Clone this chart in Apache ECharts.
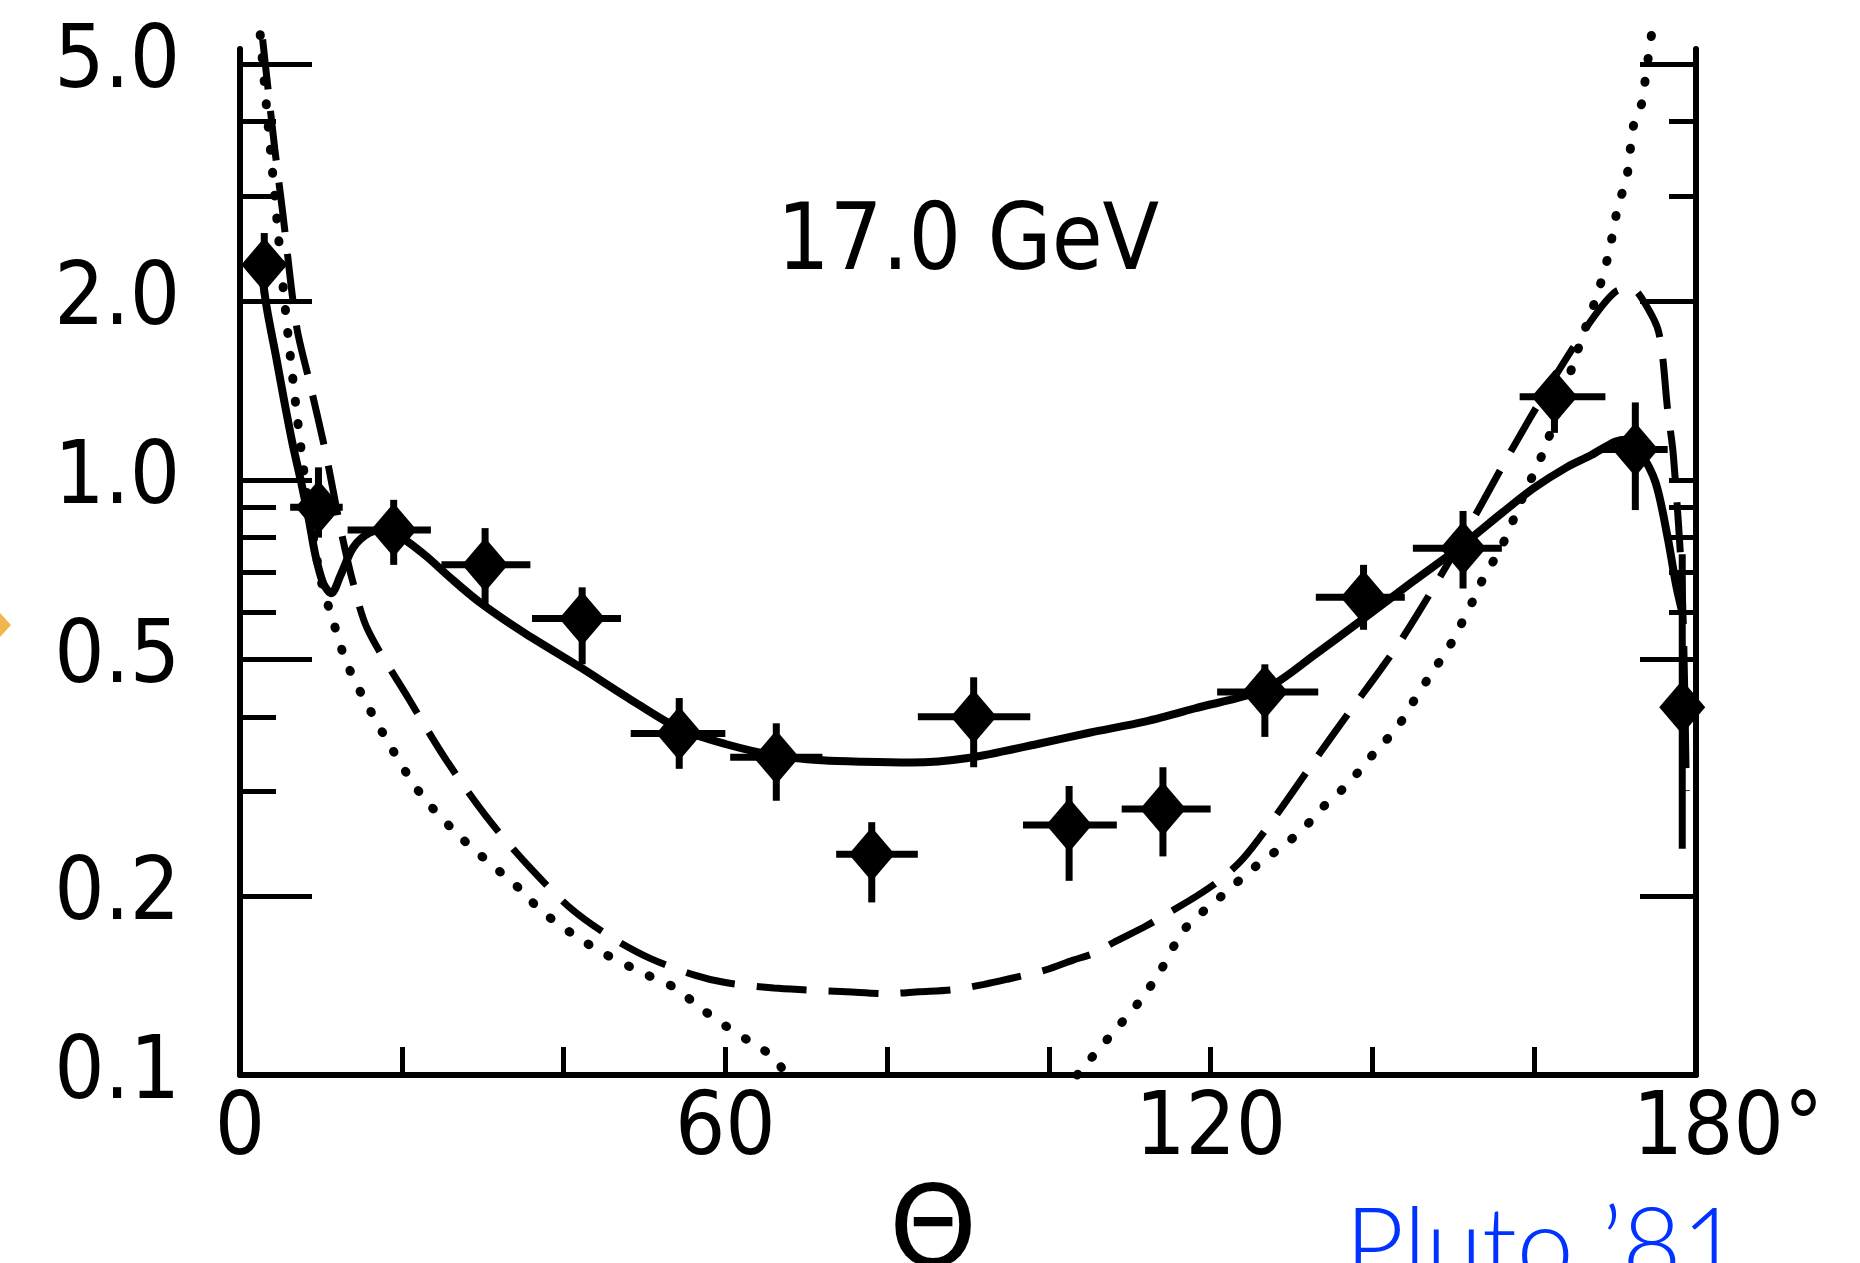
<!DOCTYPE html>
<html>
<head>
<meta charset="utf-8">
<script src="https://cdn.jsdelivr.net/npm/echarts@6/dist/echarts.min.js"></script>
<style>
html,body{margin:0;padding:0;background:#fff;}
#chart{width:1860px;height:1263px;}
</style>
</head>
<body>
<div id="chart"></div>
<script>
// ---- data ----
const xLabelValues = [0, 60, 120, 180];
const yLabelValues = [0.1, 0.2, 0.5, 1, 2, 5];
const leftMinorTicks = [0.3, 0.4, 0.6, 0.7, 0.8, 0.9, 3, 4];
const rightMajorTicks = [0.2, 0.5, 2, 5];
const rightMinorTicks = [0.6, 0.7, 0.8, 0.9, 1, 3, 4];

// measured points: angle, value, angle low/high, value low/high
const theta    = [3.0, 9.7, 19.0, 30.3, 42.3, 54.3, 66.3, 78.1, 90.7, 102.5, 114.1, 126.7, 138.9, 151.2, 162.5, 172.5, 178.3];
const dsig     = [2.3, 0.90, 0.824, 0.72, 0.585, 0.375, 0.342, 0.235, 0.40, 0.263, 0.28, 0.44, 0.635, 0.768, 1.38, 1.125, 0.415];
const thetaLo  = [1.0, 6.2, 13.3, 24.9, 36.1, 48.3, 60.6, 73.7, 83.8, 96.8, 109.0, 120.8, 133.0, 145.0, 158.2, 168.5, 176.0];
const thetaHi  = [5.5, 12.7, 23.6, 35.9, 47.1, 60.0, 72.0, 83.8, 97.7, 108.4, 120.0, 133.3, 144.0, 156.0, 168.8, 176.5, 180.0];
const dsigLo   = [2.05, 0.80, 0.72, 0.61, 0.49, 0.327, 0.289, 0.195, 0.329, 0.212, 0.233, 0.37, 0.56, 0.657, 1.20, 0.89, 0.24];
const dsigHi   = [2.6, 1.05, 0.926, 0.83, 0.66, 0.43, 0.39, 0.266, 0.466, 0.306, 0.329, 0.49, 0.72, 0.887, 1.49, 1.35, 0.75];

// theory curves [angle, value]
const solidCurve = [[2.5,2.35],[3.3,1.95],[4.5,1.6],[5.5,1.35],[6.5,1.15],[7.5,1.0],[8.5,0.86],[9.3,0.75],[10.3,0.67],[11.3,0.645],[12.4,0.69],[14,0.77],[16,0.815],[18,0.825],[20,0.8],[23,0.745],[26,0.685],[29.5,0.625],[35,0.555],[42,0.485],[48,0.43],[54.3,0.382],[60,0.36],[66.3,0.344],[72,0.338],[77,0.336],[83,0.335],[90,0.341],[98.6,0.36],[105,0.376],[112,0.393],[118,0.413],[126.7,0.445],[133,0.51],[139,0.586],[145,0.675],[151,0.775],[156,0.88],[160,0.97],[164,1.05],[167,1.1],[170,1.16],[171.5,1.17],[173,1.12],[175,0.99],[176.5,0.8],[177.5,0.67],[178.3,0.6]];
const dashedCurve = [[2.8,5.5],[3.5,4.5],[4.3,3.6],[5.3,2.8],[7.0,1.81],[8.6,1.46],[10.6,1.11],[12.5,0.82],[14,0.67],[15.8,0.56],[20.8,0.43],[25.7,0.335],[31,0.266],[36,0.222],[41,0.19],[46,0.17],[50.7,0.157],[56.3,0.147],[60,0.143],[66,0.14],[70,0.139],[75,0.138],[80,0.137],[84,0.138],[88,0.139],[92,0.142],[95,0.145],[99.5,0.15],[103,0.156],[105.5,0.16],[108,0.167],[112,0.178],[115,0.188],[118.3,0.2],[121,0.212],[124,0.231],[128,0.272],[133,0.34],[137,0.405],[141,0.48],[144,0.55],[150,0.75],[157,1.11],[162,1.45],[167,1.85],[170,2.07],[172,2.1],[173.5,2.0],[175.4,1.77],[176.5,1.31],[177.2,1.1],[178.3,0.65],[178.8,0.3]];
const dottedLeft = [[2.5,5.6],[3.3,4.2],[4.3,3.0],[5.5,2.0],[7,1.3],[8.5,0.9],[10,0.68],[11.5,0.58],[13,0.5],[14.9,0.44],[18.7,0.355],[22.4,0.296],[27.4,0.25],[32.4,0.218],[35,0.203],[37,0.19],[41,0.173],[45,0.16],[50,0.148],[53.8,0.14],[56.8,0.13],[60,0.121],[63.4,0.113],[66,0.107],[67.5,0.1]];
const dottedRight = [[103.5,0.1],[104,0.102],[107.5,0.116],[111.4,0.134],[113.7,0.149],[116.8,0.176],[121,0.198],[125.7,0.225],[129,0.243],[131.4,0.259],[134,0.283],[136.6,0.305],[138.5,0.326],[140.7,0.354],[142.9,0.381],[145,0.423],[147.2,0.471],[149.4,0.522],[150.9,0.57],[152.4,0.626],[153.5,0.675],[156.1,0.78],[158.5,0.93],[161.3,1.13],[164,1.45],[166,1.75],[167.8,2.05],[169.2,2.4],[170.4,2.9],[171.4,3.2],[172.3,3.96],[173.3,4.3],[173.8,4.8],[174.5,5.6]];

const labelFont = "'DejaVu Sans Condensed', 'Liberation Sans Narrow', 'DejaVu Sans', sans-serif";

const errData = theta.map((t, i) => [t, dsig[i], thetaLo[i], thetaHi[i], dsigLo[i], dsigHi[i]]);
const pointData = theta.map((t, i) => [t, dsig[i]]);

const chart = echarts.init(document.getElementById('chart'), null, {renderer: 'canvas'});

const yBase = {
  type: 'log', logBase: 10, min: 0.1, max: 5.3,
  splitLine: {show: false}, minorTick: {show: false}, minorSplitLine: {show: false}
};

const option = {
  backgroundColor: '#ffffff',
  animation: false,
  title: [
    {text: '17.0 GeV', left: 772, top: 194,
     textStyle: {fontFamily: labelFont, fontSize: 92, fontWeight: 'normal', color: '#000'}},
    {text: 'Pluto \u201981', left: 1340, top: 1192,
     textStyle: {fontFamily: "Lato, 'Open Sans', sans-serif", fontSize: 102, fontWeight: 300, color: '#0033ff'}}
  ],
  graphic: [
    {type: 'polygon', shape: {points: [[0, 613], [11, 625], [0, 637]]}, style: {fill: '#f2b64e'}}
  ],
  grid: {left: 240, right: 164, top: 49, bottom: 188, containLabel: false, outerBoundsMode: 'none'},
  xAxis: {
    type: 'value', min: 0, max: 180, interval: 20,
    name: '\u0398', nameLocation: 'middle', nameGap: 92,
    nameTextStyle: {fontFamily: "'DejaVu Sans', sans-serif", fontSize: 112, color: '#000', padding: [0, 70, 0, 0]},
    axisLine: {show: true, onZero: false, lineStyle: {color: '#000', width: 6}},
    axisTick: {show: true, inside: true, length: 28, lineStyle: {color: '#000', width: 5}},
    axisLabel: {
      show: true, margin: 12, color: '#000', fontFamily: labelFont, fontSize: 88,
      showMinLabel: true, showMaxLabel: true,
      formatter: function (v) {
        if (xLabelValues.indexOf(v) < 0) return '';
        return v === 180 ? '{p|}180\u00b0' : String(v);
      },
      rich: {p: {width: 64}}
    },
    splitLine: {show: false}
  },
  yAxis: [
    Object.assign({}, yBase, {
      position: 'left',
      axisLine: {show: true, lineStyle: {color: '#000', width: 6}},
      axisTick: {show: true, inside: true, length: 72, customValues: yLabelValues.slice(1), lineStyle: {color: '#000', width: 5}},
      axisLabel: {
        show: true, margin: 60, color: '#000', fontFamily: labelFont, fontSize: 88,
        customValues: yLabelValues,
        formatter: function (v) { return v >= 1 ? Number(v).toFixed(1) : String(Number(v.toPrecision(3))); }
      }
    }),
    Object.assign({}, yBase, {
      position: 'left',
      axisLine: {show: false},
      axisTick: {show: true, inside: true, length: 36, customValues: leftMinorTicks, lineStyle: {color: '#000', width: 5}},
      axisLabel: {show: false}
    }),
    Object.assign({}, yBase, {
      position: 'right',
      axisLine: {show: true, lineStyle: {color: '#000', width: 6}},
      axisTick: {show: true, inside: true, length: 56, customValues: rightMajorTicks, lineStyle: {color: '#000', width: 5}},
      axisLabel: {show: false}
    }),
    Object.assign({}, yBase, {
      position: 'right',
      axisLine: {show: false},
      axisTick: {show: true, inside: true, length: 27, customValues: rightMinorTicks, lineStyle: {color: '#000', width: 5}},
      axisLabel: {show: false}
    })
  ],
  series: [
    {type: 'line', name: 'solid', data: solidCurve, showSymbol: false, smooth: 0.3, clip: false, z: 3,
     lineStyle: {color: '#000', width: 8, type: 'solid'}},
    {type: 'line', name: 'dashed', data: dashedCurve, showSymbol: false, smooth: 0.3, clip: false, z: 3,
     lineStyle: {color: '#000', width: 7, type: [50, 22]}},
    {type: 'line', name: 'dottedL', data: dottedLeft, showSymbol: false, smooth: 0.3, clip: false, z: 3,
     lineStyle: {color: '#000', width: 9, type: [1, 22], cap: 'round'}},
    {type: 'line', name: 'dottedR', data: dottedRight, showSymbol: false, smooth: 0.3, clip: false, z: 3,
     lineStyle: {color: '#000', width: 9, type: [1, 22], cap: 'round'}},
    {type: 'custom', name: 'errors', data: errData, z: 4, clip: false,
     encode: {x: [0, 2, 3], y: [1, 4, 5]},
     renderItem: function (params, api) {
       const t = api.value(0), v = api.value(1);
       const c = api.coord([t, v]);
       const l = api.coord([api.value(2), v]);
       const r = api.coord([api.value(3), v]);
       const lo = api.coord([t, api.value(4)]);
       const hi = api.coord([t, api.value(5)]);
       const st = {stroke: '#000', lineWidth: 7};
       return {type: 'group', children: [
         {type: 'line', shape: {x1: l[0], y1: l[1], x2: r[0], y2: r[1]}, style: st},
         {type: 'line', shape: {x1: c[0], y1: lo[1], x2: c[0], y2: hi[1]}, style: st}
       ]};
     }},
    {type: 'scatter', name: 'points', data: pointData, z: 5,
     symbol: 'diamond', symbolSize: [46, 54],
     itemStyle: {color: '#000', opacity: 1}}
  ]
};
chart.setOption(option);
</script>
</body>
</html>
